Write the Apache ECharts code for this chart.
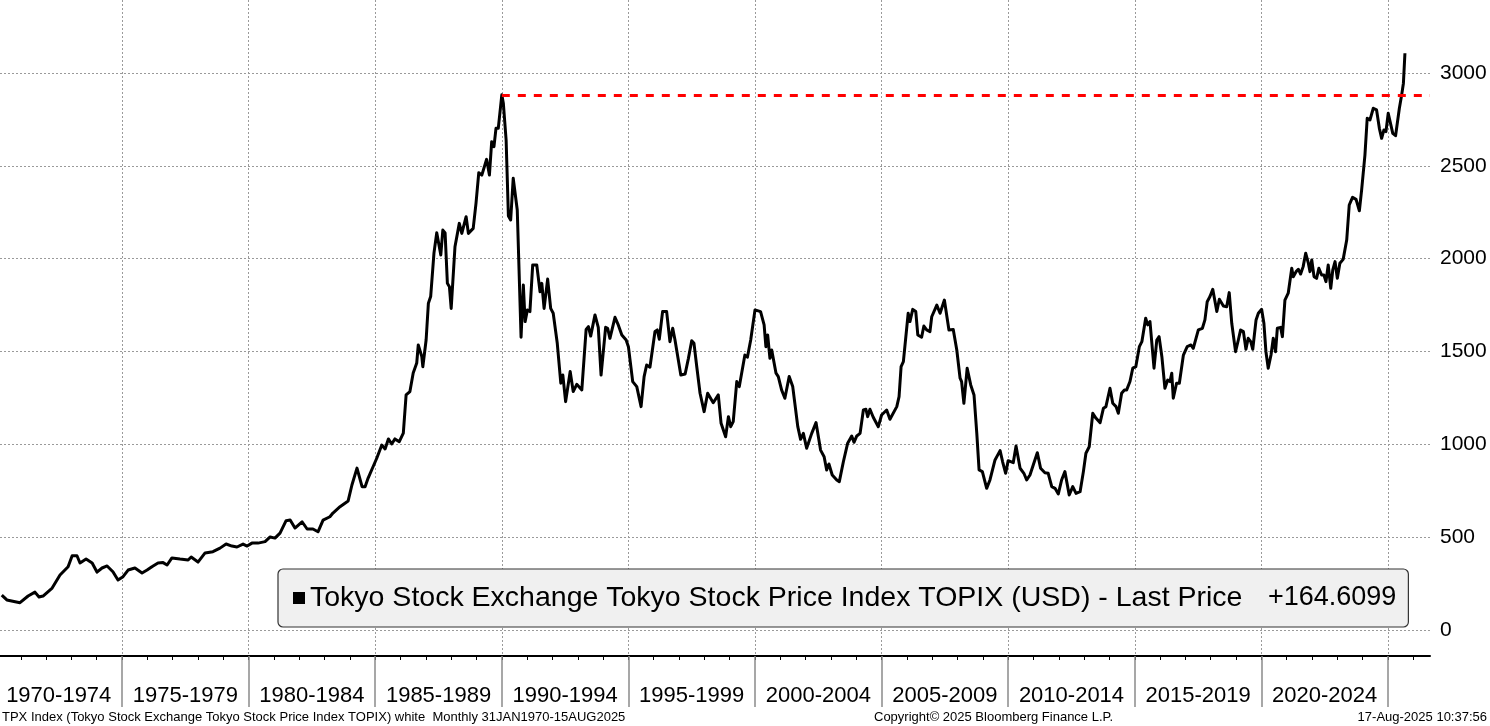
<!DOCTYPE html>
<html>
<head>
<meta charset="utf-8">
<title>TOPIX (USD)</title>
<script src="https://cdn.jsdelivr.net/npm/echarts@6/dist/echarts.min.js"></script>
<style>
  html, body { margin: 0; padding: 0; background: #fff; }
  #main { width: 1490px; height: 726px; }
</style>
</head>
<body>
<div id="main"></div>
<script>
// TPX Index in USD, monthly (decimal year, value)
var years = [
  1970.25, 1970.45, 1970.97, 1971.29, 1971.56, 1971.72, 1971.88, 1972.24, 1972.55, 1972.87,
  1973.03, 1973.22, 1973.34, 1973.58, 1973.82, 1974.01, 1974.21, 1974.41, 1974.64, 1974.84,
  1975.04, 1975.24, 1975.51, 1975.79, 1975.99, 1976.18, 1976.42, 1976.62, 1976.78, 1976.97,
  1977.29, 1977.61, 1977.73, 1978.00, 1978.28, 1978.59, 1978.87, 1979.11, 1979.34, 1979.54,
  1979.78, 1979.94, 1980.13, 1980.37, 1980.65, 1980.85, 1981.04, 1981.24, 1981.48, 1981.64,
  1981.83, 1982.11, 1982.31, 1982.54, 1982.74, 1982.94, 1983.21, 1983.33, 1983.61, 1983.93,
  1984.08, 1984.28, 1984.48, 1984.60, 1984.72, 1984.91, 1985.06, 1985.26, 1985.39, 1985.52,
  1985.65, 1985.78, 1985.95, 1986.11, 1986.22, 1986.37, 1986.50, 1986.64, 1986.70, 1986.84,
  1986.88, 1987.01, 1987.10, 1987.19, 1987.32, 1987.43, 1987.59, 1987.67, 1987.76, 1987.85,
  1987.93, 1988.00, 1988.15, 1988.32, 1988.42, 1988.59, 1988.68, 1988.87, 1988.98, 1989.09,
  1989.21, 1989.40, 1989.51, 1989.60, 1989.69, 1989.77, 1989.86, 1990.00, 1990.06, 1990.17,
  1990.26, 1990.35, 1990.45, 1990.61, 1990.76, 1990.85, 1990.92, 1991.01, 1991.11, 1991.22,
  1991.38, 1991.51, 1991.58, 1991.67, 1991.81, 1991.93, 1992.03, 1992.19, 1992.33, 1992.41,
  1992.52, 1992.70, 1992.82, 1992.96, 1993.16, 1993.33, 1993.42, 1993.51, 1993.68, 1993.81,
  1993.92, 1994.10, 1994.18, 1994.27, 1994.47, 1994.60, 1994.74, 1994.91, 1995.00, 1995.17,
  1995.33, 1995.50, 1995.62, 1995.72, 1995.85, 1996.05, 1996.14, 1996.22, 1996.35, 1996.51,
  1996.64, 1996.75, 1996.84, 1996.91, 1997.07, 1997.24, 1997.37, 1997.50, 1997.59, 1997.70,
  1997.83, 1997.99, 1998.13, 1998.35, 1998.55, 1998.66, 1998.84, 1998.95, 1999.04, 1999.14,
  1999.28, 1999.38, 1999.60, 1999.70, 1999.83, 2000.00, 2000.22, 2000.36, 2000.43, 2000.50,
  2000.59, 2000.66, 2000.83, 2000.92, 2001.05, 2001.18, 2001.35, 2001.49, 2001.69, 2001.80,
  2001.91, 2002.04, 2002.10, 2002.24, 2002.41, 2002.59, 2002.73, 2002.83, 2002.92, 2003.05,
  2003.23, 2003.33, 2003.49, 2003.66, 2003.82, 2003.91, 2004.02, 2004.15, 2004.28, 2004.38,
  2004.45, 2004.54, 2004.67, 2004.87, 2005.00, 2005.20, 2005.33, 2005.60, 2005.69, 2005.77,
  2005.86, 2006.05, 2006.12, 2006.23, 2006.35, 2006.43, 2006.58, 2006.67, 2006.78, 2006.91,
  2006.98, 2007.18, 2007.31, 2007.48, 2007.66, 2007.83, 2007.97, 2008.10, 2008.16, 2008.25,
  2008.38, 2008.52, 2008.65, 2008.76, 2008.85, 2008.98, 2009.15, 2009.28, 2009.48, 2009.68,
  2009.78, 2009.90, 2010.00, 2010.20, 2010.31, 2010.47, 2010.62, 2010.73, 2010.86, 2010.99,
  2011.15, 2011.28, 2011.45, 2011.58, 2011.72, 2011.85, 2011.98, 2012.11, 2012.24, 2012.41,
  2012.55, 2012.68, 2012.84, 2012.97, 2013.07, 2013.20, 2013.34, 2013.47, 2013.63, 2013.76,
  2013.86, 2014.02, 2014.13, 2014.26, 2014.35, 2014.48, 2014.59, 2014.68, 2014.81, 2014.92,
  2015.04, 2015.18, 2015.28, 2015.43, 2015.51, 2015.60, 2015.76, 2015.87, 2015.96, 2016.07,
  2016.19, 2016.30, 2016.39, 2016.46, 2016.52, 2016.65, 2016.76, 2016.92, 2017.07, 2017.22,
  2017.31, 2017.51, 2017.67, 2017.77, 2017.86, 2017.97, 2018.08, 2018.24, 2018.34, 2018.50,
  2018.63, 2018.73, 2018.83, 2018.89, 2018.98, 2019.09, 2019.18, 2019.29, 2019.39, 2019.48,
  2019.58, 2019.66, 2019.79, 2019.88, 2020.01, 2020.10, 2020.18, 2020.27, 2020.38, 2020.47,
  2020.56, 2020.63, 2020.76, 2020.83, 2020.93, 2021.06, 2021.20, 2021.26, 2021.37, 2021.46,
  2021.55, 2021.65, 2021.75, 2021.85, 2021.92, 2021.99, 2022.08, 2022.18, 2022.27, 2022.38,
  2022.47, 2022.55, 2022.64, 2022.74, 2022.82, 2022.91, 2023.00, 2023.10, 2023.23, 2023.37,
  2023.47, 2023.60, 2023.74, 2023.87, 2023.96, 2024.03, 2024.09, 2024.18, 2024.29, 2024.42,
  2024.55, 2024.66, 2024.75, 2024.84, 2024.92, 2025.01, 2025.08, 2025.19, 2025.30, 2025.35,
  2025.45, 2025.54, 2025.61, 2025.67
];
var values = [
  188, 162, 147, 183, 204, 178, 183, 226, 296, 341,
  400, 400, 361, 382, 361, 312, 334, 345, 314, 269,
  287, 323, 334, 307, 323, 341, 361, 363, 350, 388,
  382, 377, 393, 366, 415, 422, 441, 463, 452, 447,
  463, 452, 468, 468, 476, 501, 495, 522, 589, 592,
  549, 583, 544, 544, 529, 592, 610, 630, 664, 695,
  781, 872, 772, 772, 818, 878, 925, 996, 975, 1029,
  1002, 1029, 1014, 1060, 1266, 1284, 1384, 1438, 1535, 1472,
  1418, 1562, 1760, 1796, 2030, 2140, 2020, 2154, 2138, 1867,
  1849, 1732, 2064, 2190, 2136, 2226, 2136, 2163, 2298, 2463,
  2450, 2535, 2450, 2630, 2603, 2702, 2702, 2882, 2837, 2639,
  2230, 2208, 2433, 2262, 1577, 1858, 1661, 1724, 1715, 1966,
  1966, 1822, 1867, 1732, 1890, 1732, 1706, 1544, 1329, 1373,
  1230, 1392, 1284, 1323, 1293, 1619, 1634, 1583, 1697, 1630,
  1373, 1630, 1625, 1571, 1684, 1643, 1589, 1562, 1526, 1338,
  1311, 1203, 1365, 1427, 1415, 1608, 1616, 1566, 1715, 1715,
  1553, 1625, 1562, 1566, 1373, 1379, 1463, 1558, 1544, 1418,
  1275, 1176, 1275, 1224, 1266, 1113, 1041, 1149, 1095, 1122,
  1338, 1311, 1481, 1469, 1562, 1724, 1715, 1643, 1526, 1589,
  1463, 1508, 1383, 1365, 1293, 1248, 1365, 1311, 1095, 1027,
  1059, 979, 979, 1059, 1117, 969, 933, 862, 894, 835,
  808, 799, 906, 1006, 1045, 1011, 1045, 1059, 1185, 1189,
  1149, 1189, 1146, 1095, 1158, 1185, 1135, 1203, 1257, 1418,
  1445, 1706, 1661, 1727, 1715, 1589, 1577, 1637, 1616, 1607,
  1687, 1750, 1706, 1777, 1616, 1619, 1508, 1356, 1338, 1221,
  1410, 1320, 1266, 1059, 862, 853, 763, 808, 916, 966,
  906, 844, 912, 901, 991, 871, 844, 808, 835, 889,
  955, 871, 847, 844, 772, 763, 733, 808, 853, 727,
  772, 736, 745, 853, 952, 987, 1167, 1140, 1117, 1194,
  1203, 1302, 1221, 1203, 1167, 1275, 1293, 1293, 1338, 1410,
  1418, 1526, 1553, 1679, 1643, 1661, 1410, 1562, 1580, 1472,
  1302, 1346, 1338, 1383, 1248, 1329, 1329, 1481, 1526, 1535,
  1517, 1616, 1625, 1670, 1768, 1796, 1835, 1715, 1781, 1745,
  1741, 1817, 1652, 1661, 1499, 1562, 1616, 1607, 1512, 1571,
  1553, 1512, 1670, 1706, 1727, 1652, 1499, 1410, 1481, 1571,
  1499, 1625, 1630, 1580, 1777, 1814, 1948, 1903, 1930, 1943,
  1917, 1957, 2029, 1979, 1930, 1993, 1903, 1894, 1948, 1912,
  1912, 1876, 1966, 1840, 1939, 1984, 1894, 1975, 1996, 2100,
  2289, 2330, 2319, 2258, 2370, 2373, 2558, 2756, 2747, 2810,
  2801, 2702, 2648, 2693, 2684, 2783, 2792, 2675, 2662, 2666,
  2810, 2882, 2945, 3106
];

// previous high (Dec 1989) carried forward as the red dashed line
var peakYear = 1990.0;
var peakValue = 2882;

var yTicks = [0, 500, 1000, 1500, 2000, 2500, 3000];
var yearTicks = [];
for (var y = 1971; y <= 2026; y++) yearTicks.push(y);
var periodStarts = [1975, 1980, 1985, 1990, 1995, 2000, 2005, 2010, 2015, 2020, 2025];
var periodMids = [1972.5, 1977.5, 1982.5, 1987.5, 1992.5, 1997.5, 2002.5, 2007.5, 2012.5, 2017.5, 2022.5];
var periodLabels = ['1970-1974', '1975-1979', '1980-1984', '1985-1989', '1990-1994', '1995-1999',
  '2000-2004', '2005-2009', '2010-2014', '2015-2019', '2020-2024'];

var seriesName = 'Tokyo Stock Exchange Tokyo Stock Price Index TOPIX (USD) - Last Price';
var lastLabel = '+164.6099';

var xMin = 1970.18, xMax = 2026.66;

var myChart = echarts.init(document.getElementById('main'));

var font = 'Liberation Sans, Arial, sans-serif';
var dotted = { color: '#9a9a9a', width: 1, type: [2, 2] };

var option = {
  animation: false,
  backgroundColor: '#fff',
  textStyle: { fontFamily: font },
  grid: { left: 0, right: 60, top: 0, bottom: 70, outerBoundsMode: 'none', containLabel: false },
  legend: {
    left: 278,
    top: 569,
    padding: [13, 12, 13, 15],
    backgroundColor: '#f0f0f0',
    borderColor: '#333',
    borderWidth: 1.2,
    borderRadius: 5,
    icon: 'rect',
    itemWidth: 12,
    itemHeight: 12,
    selectedMode: false,
    data: [seriesName],
    formatter: function (name) {
      return '{a|' + name + '}{b|' + lastLabel + '}';
    },
    textStyle: {
      color: '#000',
      fontFamily: font,
      fontSize: 27,
      lineHeight: 32,
      rich: {
        a: { fontSize: 28.5, fontFamily: font, color: '#000', width: 958, lineHeight: 32 },
        b: { fontSize: 27, fontFamily: font, color: '#000', lineHeight: 32 }
      }
    }
  },
  xAxis: [
    {
      type: 'value',
      position: 'bottom',
      min: xMin,
      max: xMax,
      axisLine: { show: true, onZero: false, lineStyle: { color: '#000', width: 2 } },
      axisTick: { show: true, customValues: yearTicks, length: 4, lineStyle: { color: '#000', width: 1 } },
      axisLabel: {
        customValues: periodMids,
        margin: 29,
        color: '#000',
        fontSize: 22,
        fontFamily: font,
        formatter: function (v) {
          var i = periodMids.indexOf(v);
          return i >= 0 ? periodLabels[i] : '';
        }
      },
      splitLine: { show: false }
    },
    {
      type: 'value',
      position: 'bottom',
      min: xMin,
      max: xMax,
      axisLine: { show: false, onZero: false },
      axisTick: { show: true, customValues: periodStarts, length: 51, lineStyle: { color: '#8a8a8a', width: 1.5 } },
      axisLabel: { show: false },
      splitLine: { show: true, lineStyle: dotted }
    }
  ],
  yAxis: {
    type: 'value',
    position: 'right',
    min: -140,
    max: 3393,
    axisLine: { show: false },
    axisTick: { show: false, customValues: yTicks },
    axisLabel: {
      customValues: yTicks,
      margin: 10,
      color: '#000',
      fontSize: 21,
      fontFamily: font,
      formatter: function (v) { return String(v); }
    },
    splitLine: { show: true, lineStyle: dotted }
  },
  series: [
    {
      name: seriesName,
      type: 'line',
      xAxisIndex: 0,
      data: years.map(function (yr, i) { return [yr, values[i]]; }),
      showSymbol: false,
      symbol: 'none',
      itemStyle: { color: '#000' },
      lineStyle: { color: '#000', width: 3, join: 'round' },
      z: 3,
      markLine: {
        silent: true,
        symbol: 'none',
        label: { show: false },
        lineStyle: { color: '#ff0000', width: 3, type: [8, 8] },
        data: [[{ coord: [peakYear, peakValue] }, { coord: [xMax, peakValue] }]]
      }
    }
  ],
  graphic: [
    {
      type: 'text', left: 2, top: 711,
      style: { text: 'TPX Index (Tokyo Stock Exchange Tokyo Stock Price Index TOPIX) white  Monthly 31JAN1970-15AUG2025', font: '13px Liberation Sans', fill: '#000' }
    },
    {
      type: 'text', left: 874, top: 711,
      style: { text: 'Copyright\u00a9 2025 Bloomberg Finance L.P.', font: '13px Liberation Sans', fill: '#000' }
    },
    {
      type: 'text', right: 3, top: 711,
      style: { text: '17-Aug-2025 10:37:56', font: '13px Liberation Sans', fill: '#000' }
    }
  ]
};

myChart.setOption(option);
</script>
</body>
</html>
